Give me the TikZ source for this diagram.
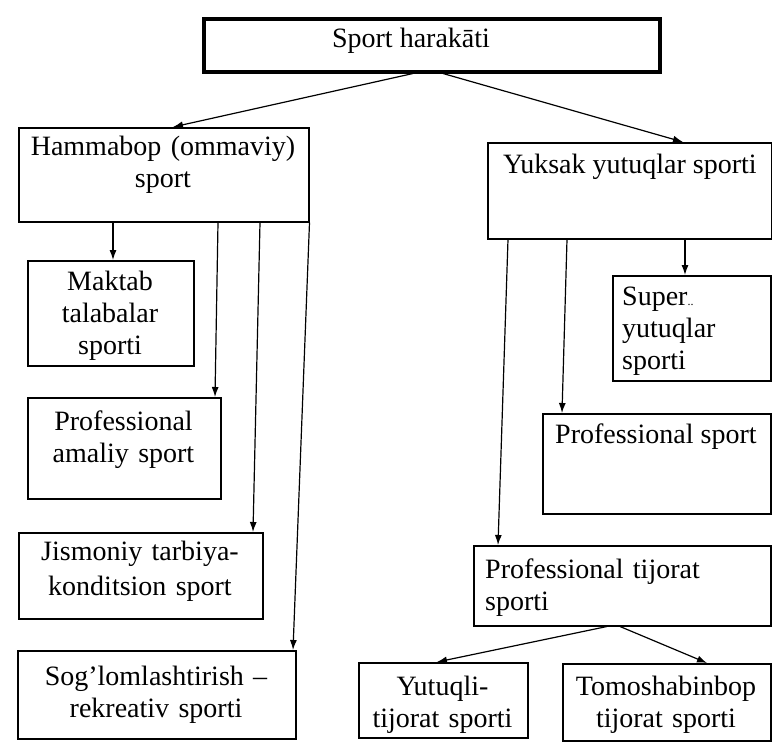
\documentclass[tikz,border=0pt]{standalone}
\usepackage{fontspec}
\setmainfont{Liberation Serif}
\usetikzlibrary{arrows.meta}
\begin{document}
\begin{tikzpicture}[x=1pt,y=-1pt,
  box/.style={draw, line width=1.5pt, inner sep=0pt, anchor=north west},
  lbl/.style={inner sep=0pt, font=\fontsize{28}{32}\selectfont},
  ctr/.style={lbl, anchor=base, align=center},
  lft/.style={lbl, anchor=base west, align=left},
  arr/.style={line width=1.2pt, -{Latex[length=10pt,width=7pt]}}]
\useasboundingbox (0,0) rectangle (772,750);
\fill[white] (0,0) rectangle (772,750);
% boxes
\node[box, line width=3.5pt, minimum width=456pt, minimum height=53pt] (top) at (202,17) {};
\node[box, minimum width=290pt, minimum height=94pt] (hb) at (18,127) {};
\node[box, minimum width=284pt, minimum height=96pt] (yk) at (487,142) {};
\node[box, minimum width=166pt, minimum height=105pt] (mk) at (27,260) {};
\node[box, minimum width=193pt, minimum height=101pt] (pa) at (27,397) {};
\node[box, minimum width=244pt, minimum height=86pt] (js) at (18,532) {};
\node[box, minimum width=278pt, minimum height=88pt] (sg) at (17,650) {};
\node[box, minimum width=158pt, minimum height=105pt] (su) at (612,275) {};
\node[box, minimum width=228pt, minimum height=100pt] (ps) at (542,413) {};
\node[box, minimum width=297pt, minimum height=80pt] (pt) at (473,545) {};
\node[box, minimum width=169pt, minimum height=75pt] (yt) at (358,662) {};
\node[box, minimum width=208pt, minimum height=77pt] (tm) at (562,663) {};
% texts
\node[ctr] (t0) at (411,47) {Sport harakāti};
\node[ctr, text width=290pt] (t1) at (163,155) {Hammabop (ommaviy)\\sport};
\node[lft] (t2) at (503,173) {Yuksak yutuqlar sporti};
\node[ctr, text width=166pt] (t3) at (110,290) {Maktab\\talabalar\\sporti};
\node[ctr, text width=193pt] (t4) at (123.5,430) {Professional\\amaliy sport};
\node[ctr, text width=244pt, font=\fontsize{28}{35}\selectfont] (t5) at (140,560) {Jismoniy tarbiya-\\konditsion sport};
\node[ctr, text width=278pt] (t6) at (156,685) {Sog’lomlashtirish –\\rekreativ sporti};
\node[lft, text width=140pt] (t7) at (622,305) {Super{\fontsize{12}{12}\selectfont..}\\yutuqlar\\sporti};
\node[lft] (t8) at (555,443) {Professional sport};
\node[lft, text width=280pt] (t9) at (485,578) {Professional tijorat\\sporti};
\node[ctr, text width=169pt] (t10) at (442.5,695) {Yutuqli-\\tijorat sporti};
\node[ctr, text width=208pt] (t11) at (666,695) {Tomoshabinbop\\tijorat sporti};
% connectors
\draw[arr] ([xshift=211pt]top.south west) -- ([xshift=155pt]hb.north west);
\draw[arr] ([xshift=241pt]top.south west) -- ([xshift=196pt]yk.north west);
\draw[arr] ([xshift=95pt]hb.south west) -- ([xshift=86pt]mk.north west);
\draw[arr] ([xshift=200pt]hb.south west) -- ([xshift=188pt]pa.north west);
\draw[arr] ([xshift=242pt]hb.south west) -- ([xshift=235pt]js.north west);
\draw[arr] (hb.south east) -- ([xshift=276pt]sg.north west);
\draw[arr] ([xshift=21pt]yk.south west) -- ([xshift=25pt]pt.north west);
\draw[arr] ([xshift=80pt]yk.south west) -- ([xshift=20pt]ps.north west);
\draw[arr] ([xshift=198pt]yk.south west) -- ([xshift=73pt]su.north west);
\draw[arr] ([xshift=134pt]pt.south west) -- ([xshift=79pt]yt.north west);
\draw[arr] ([xshift=147pt]pt.south west) -- ([xshift=145pt]tm.north west);
\end{tikzpicture}
\end{document}
